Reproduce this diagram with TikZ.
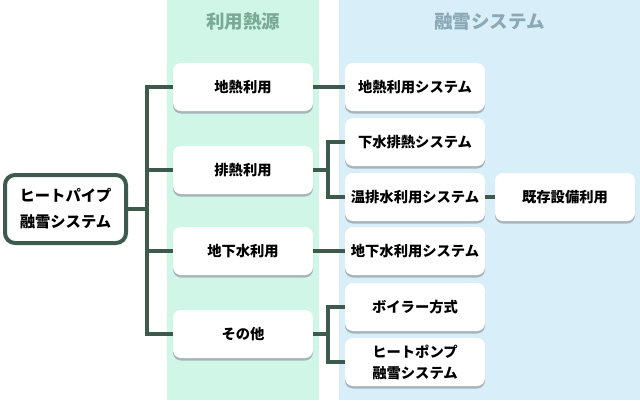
\documentclass[tikz,border=0pt]{standalone}
\usepackage{fontspec}
\setmainfont{Noto Sans CJK JP}
\usetikzlibrary{shadows}
\definecolor{mylinegreen}{RGB}{62,90,78}
\definecolor{mymint}{RGB}{208,246,232}
\definecolor{myskyblue}{RGB}{216,239,249}
\definecolor{myheadgreen}{RGB}{122,170,150}
\definecolor{myheadblue}{RGB}{138,168,181}
\definecolor{myshadow}{RGB}{168,180,188}

\begin{document}
\begin{tikzpicture}[x=1pt,y=-1pt,
        box/.style={fill=white,rounded corners=8pt,minimum width=140pt,minimum height=48pt,inner sep=0pt,align=center,
            font=\fontsize{14.3}{21}\selectfont\bfseries,
            drop shadow={shadow xshift=0pt,shadow yshift=-2.5pt,fill=myshadow,opacity=1}},
        rootbox/.style={draw=mylinegreen,line width=4pt,fill=white,rounded corners=10pt,minimum width=121pt,minimum height=68pt,
            inner sep=0pt,align=center,font=\fontsize{15.3}{26}\selectfont\bfseries},
        headtext/.style={font=\fontsize{18.5}{20}\selectfont\bfseries},
        link/.style={draw=mylinegreen,line width=4pt}]
            \useasboundingbox (0,0) rectangle (640,400);
            \fill[white] (0,0) rectangle (640,400);
            \fill[mymint] (167,0) rectangle (319,400);
            \fill[myskyblue] (339,0) rectangle (640,400);
            \node[headtext,text=myheadgreen] (headsource) at (243,22) {利用熱源};
            \node[headtext,text=myheadblue] (headsystem) at (489.5,22) {融雪システム};
            \node[rootbox] (root) at (65.5,209) {ヒートパイプ\\融雪システム};
            \coordinate (trunk) at (147,209);
            \node[box] (geo) at (243,87) {地熱利用};
            \node[box] (waste) at (243,170) {排熱利用};
            \node[box] (ground) at (243,251) {地下水利用};
            \node[box] (other) at (243,334) {その他};
            \node[box] (geosys) at (415,87) {地熱利用システム};
            \node[box] (sewage) at (415,142) {下水排熱システム};
            \node[box] (warm) at (415,197) {温排水利用システム};
            \node[box] (groundsys) at (415,251) {地下水利用システム};
            \node[box] (boiler) at (415,307) {ボイラー方式};
            \node[box] (heatpump) at (415,362) {ヒートポンプ\\融雪システム};
            \node[box] (existing) at (565,197) {既存設備利用};
            \draw[link] (root.east) -- (trunk);
            \foreach \src in {geo,waste,ground,other}
                \draw[link] (\src.west) -| (trunk);
            \draw[link] (geo) -- (geosys);
            \draw[link] (waste.east) -- ++(15,0) |- (sewage.west);
            \draw[link] (waste.east) -- ++(15,0) |- (warm.west);
            \draw[link] (ground) -- (groundsys);
            \draw[link] (other.east) -- ++(15,0) |- (boiler.west);
            \draw[link] (other.east) -- ++(15,0) |- (heatpump.west);
            \draw[link] (warm) -- (existing);
        \end{tikzpicture}
\end{document}
